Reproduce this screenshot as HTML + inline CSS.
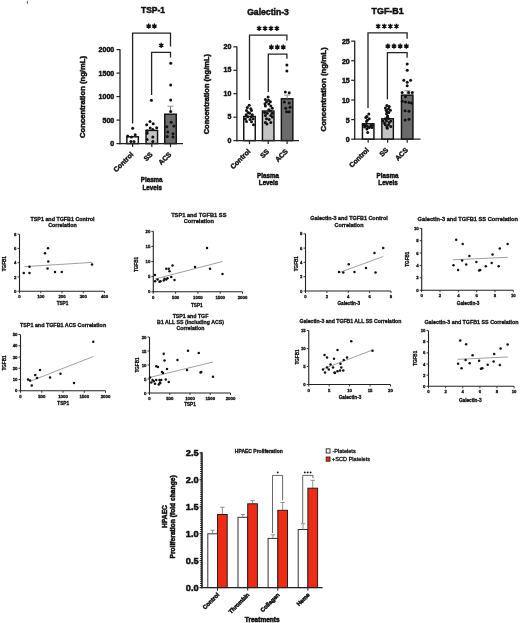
<!DOCTYPE html>
<html><head><meta charset="utf-8"><style>
html,body{margin:0;padding:0;background:#fff;}
svg{display:block;filter:blur(0.3px);font-family:"Liberation Sans",sans-serif;}
text.h{stroke:#111;stroke-width:0.5px;}
text.m{stroke:#111;stroke-width:0.4px;}
text.s{stroke:#111;stroke-width:0.3px;}
text.r{stroke:#111;stroke-width:0.3px;}
</style></head><body>
<svg width="520" height="623" viewBox="0 0 520 623">
<rect width="520" height="623" fill="#fff"/>
<text x="0" y="0" font-size="9.1" text-anchor="middle" font-weight="bold" fill="#111" transform="translate(153.00 13.20) scale(0.93 1)" class="h">TSP-1</text>
<line x1="120.00" y1="49.30" x2="120.00" y2="144.25" stroke="#222" stroke-width="1.3"/>
<line x1="116.50" y1="49.60" x2="120.00" y2="49.60" stroke="#222" stroke-width="1.2"/>
<text x="114.20" y="52.10" font-size="7" text-anchor="end" font-weight="bold" fill="#111" class="h">2000</text>
<line x1="116.50" y1="73.10" x2="120.00" y2="73.10" stroke="#222" stroke-width="1.2"/>
<text x="114.20" y="75.60" font-size="7" text-anchor="end" font-weight="bold" fill="#111" class="h">1500</text>
<line x1="116.50" y1="96.60" x2="120.00" y2="96.60" stroke="#222" stroke-width="1.2"/>
<text x="114.20" y="99.10" font-size="7" text-anchor="end" font-weight="bold" fill="#111" class="h">1000</text>
<line x1="116.50" y1="120.10" x2="120.00" y2="120.10" stroke="#222" stroke-width="1.2"/>
<text x="114.20" y="122.60" font-size="7" text-anchor="end" font-weight="bold" fill="#111" class="h">500</text>
<line x1="116.50" y1="143.60" x2="120.00" y2="143.60" stroke="#222" stroke-width="1.2"/>
<text x="114.20" y="146.10" font-size="7" text-anchor="end" font-weight="bold" fill="#111" class="h">0</text>
<rect x="126.85" y="136.80" width="11.50" height="6.80" fill="#fff" stroke="#111" stroke-width="1.45"/>
<circle cx="132.70" cy="128.30" r="1.5" fill="#111"/>
<circle cx="127.70" cy="136.00" r="1.5" fill="#111"/>
<circle cx="135.20" cy="134.80" r="1.5" fill="#111"/>
<circle cx="131.50" cy="137.00" r="1.5" fill="#111"/>
<circle cx="130.90" cy="141.50" r="1.5" fill="#111"/>
<circle cx="134.00" cy="141.50" r="1.5" fill="#111"/>
<rect x="146.05" y="130.40" width="11.50" height="13.20" fill="#c4c4c4" stroke="#111" stroke-width="1.45"/>
<circle cx="151.40" cy="100.20" r="1.5" fill="#111"/>
<circle cx="150.00" cy="121.60" r="1.5" fill="#111"/>
<circle cx="146.70" cy="124.80" r="1.5" fill="#111"/>
<circle cx="153.20" cy="123.70" r="1.5" fill="#111"/>
<circle cx="150.20" cy="128.00" r="1.5" fill="#111"/>
<circle cx="156.70" cy="127.70" r="1.5" fill="#111"/>
<circle cx="152.80" cy="129.40" r="1.5" fill="#111"/>
<circle cx="147.10" cy="130.70" r="1.5" fill="#111"/>
<circle cx="147.10" cy="133.30" r="1.5" fill="#111"/>
<circle cx="152.80" cy="137.10" r="1.5" fill="#111"/>
<circle cx="147.10" cy="139.40" r="1.5" fill="#111"/>
<circle cx="152.80" cy="141.40" r="1.5" fill="#111"/>
<rect x="164.75" y="114.20" width="11.50" height="29.40" fill="#6b6b6b" stroke="#111" stroke-width="1.45"/>
<line x1="170.50" y1="114.20" x2="170.50" y2="106.20" stroke="#777" stroke-width="1.0"/>
<line x1="167.50" y1="106.20" x2="173.50" y2="106.20" stroke="#999" stroke-width="1.1"/>
<circle cx="170.70" cy="63.20" r="1.5" fill="#111"/>
<circle cx="170.70" cy="84.90" r="1.5" fill="#111"/>
<circle cx="170.70" cy="99.90" r="1.5" fill="#111"/>
<circle cx="170.70" cy="111.40" r="1.5" fill="#111"/>
<circle cx="171.20" cy="122.30" r="1.5" fill="#111"/>
<circle cx="166.80" cy="126.70" r="1.5" fill="#111"/>
<circle cx="173.90" cy="125.90" r="1.5" fill="#111"/>
<circle cx="167.70" cy="132.00" r="1.5" fill="#111"/>
<circle cx="173.00" cy="133.80" r="1.5" fill="#111"/>
<circle cx="167.30" cy="136.50" r="1.5" fill="#111"/>
<circle cx="173.00" cy="137.00" r="1.5" fill="#111"/>
<line x1="119.35" y1="143.60" x2="183.00" y2="143.60" stroke="#222" stroke-width="1.3"/>
<line x1="132.60" y1="143.60" x2="132.60" y2="147.10" stroke="#222" stroke-width="1.2"/>
<line x1="151.80" y1="143.60" x2="151.80" y2="147.10" stroke="#222" stroke-width="1.2"/>
<line x1="170.50" y1="143.60" x2="170.50" y2="147.10" stroke="#222" stroke-width="1.2"/>
<text x="133.90" y="154.90" font-size="7" text-anchor="end" font-weight="bold" fill="#111" class="m" transform="rotate(-45 133.90 154.90)">Control</text>
<text x="153.10" y="154.90" font-size="7" text-anchor="end" font-weight="bold" fill="#111" class="m" transform="rotate(-45 153.10 154.90)">SS</text>
<text x="171.80" y="154.90" font-size="7" text-anchor="end" font-weight="bold" fill="#111" class="m" transform="rotate(-45 171.80 154.90)">ACS</text>
<text x="0" y="0" font-size="7" text-anchor="middle" font-weight="bold" fill="#111" transform="translate(151.70 182.00) scale(0.89 1)" class="h">Plasma</text>
<text x="0" y="0" font-size="7" text-anchor="middle" font-weight="bold" fill="#111" transform="translate(152.20 189.60) scale(0.89 1)" class="h">Levels</text>
<text x="85.00" y="97.00" font-size="7.65" text-anchor="middle" font-weight="bold" fill="#111" transform="rotate(-90 85.00 97.00)" class="h">Concentration (ng/mL)</text>
<polyline points="132.60,123.50 132.60,33.10 170.50,33.10 170.50,46.40" fill="none" stroke="#222" stroke-width="1.3" stroke-linejoin="miter"/>
<path d="M148.70 23.55L148.70 28.65M146.49 24.83L150.91 27.38M150.91 24.83L146.49 27.38" stroke="#111" stroke-width="1.35" stroke-linecap="butt" fill="none"/>
<circle cx="148.70" cy="26.10" r="1.25" fill="#111"/>
<path d="M154.40 23.55L154.40 28.65M152.19 24.83L156.61 27.38M156.61 24.83L152.19 27.38" stroke="#111" stroke-width="1.35" stroke-linecap="butt" fill="none"/>
<circle cx="154.40" cy="26.10" r="1.25" fill="#111"/>
<polyline points="151.60,95.00 151.60,52.40 170.50,52.40 170.50,57.40" fill="none" stroke="#222" stroke-width="1.3" stroke-linejoin="miter"/>
<path d="M161.20 42.85L161.20 47.95M158.99 44.12L163.41 46.67M163.41 44.12L158.99 46.67" stroke="#111" stroke-width="1.35" stroke-linecap="butt" fill="none"/>
<circle cx="161.20" cy="45.40" r="1.25" fill="#111"/>
<text x="0" y="0" font-size="9.1" text-anchor="middle" font-weight="bold" fill="#111" transform="translate(268.00 14.90) scale(0.95 1)" class="h">Galectin-3</text>
<line x1="236.90" y1="46.50" x2="236.90" y2="141.25" stroke="#222" stroke-width="1.3"/>
<line x1="233.40" y1="46.80" x2="236.90" y2="46.80" stroke="#222" stroke-width="1.2"/>
<text x="231.30" y="48.90" font-size="7" text-anchor="end" font-weight="bold" fill="#111" class="h">20</text>
<line x1="233.40" y1="70.30" x2="236.90" y2="70.30" stroke="#222" stroke-width="1.2"/>
<text x="231.30" y="72.40" font-size="7" text-anchor="end" font-weight="bold" fill="#111" class="h">15</text>
<line x1="233.40" y1="93.70" x2="236.90" y2="93.70" stroke="#222" stroke-width="1.2"/>
<text x="231.30" y="95.80" font-size="7" text-anchor="end" font-weight="bold" fill="#111" class="h">10</text>
<line x1="233.40" y1="117.20" x2="236.90" y2="117.20" stroke="#222" stroke-width="1.2"/>
<text x="231.30" y="119.30" font-size="7" text-anchor="end" font-weight="bold" fill="#111" class="h">5</text>
<line x1="233.40" y1="140.60" x2="236.90" y2="140.60" stroke="#222" stroke-width="1.2"/>
<text x="231.30" y="142.70" font-size="7" text-anchor="end" font-weight="bold" fill="#111" class="h">0</text>
<rect x="243.75" y="116.50" width="11.50" height="24.10" fill="#fff" stroke="#111" stroke-width="1.45"/>
<circle cx="249.20" cy="105.20" r="1.5" fill="#111"/>
<circle cx="247.30" cy="107.50" r="1.5" fill="#111"/>
<circle cx="250.80" cy="108.70" r="1.5" fill="#111"/>
<circle cx="246.50" cy="110.60" r="1.5" fill="#111"/>
<circle cx="251.50" cy="110.60" r="1.5" fill="#111"/>
<circle cx="248.10" cy="112.50" r="1.5" fill="#111"/>
<circle cx="249.60" cy="113.30" r="1.5" fill="#111"/>
<circle cx="246.20" cy="114.80" r="1.5" fill="#111"/>
<circle cx="252.30" cy="114.80" r="1.5" fill="#111"/>
<circle cx="247.70" cy="116.70" r="1.5" fill="#111"/>
<circle cx="251.20" cy="116.70" r="1.5" fill="#111"/>
<circle cx="245.40" cy="119.00" r="1.5" fill="#111"/>
<circle cx="250.00" cy="119.40" r="1.5" fill="#111"/>
<circle cx="253.10" cy="118.70" r="1.5" fill="#111"/>
<circle cx="246.50" cy="121.40" r="1.5" fill="#111"/>
<circle cx="251.50" cy="121.70" r="1.5" fill="#111"/>
<circle cx="253.50" cy="124.80" r="1.5" fill="#111"/>
<rect x="262.45" y="111.00" width="11.50" height="29.60" fill="#c4c4c4" stroke="#111" stroke-width="1.45"/>
<circle cx="268.10" cy="97.10" r="1.5" fill="#111"/>
<circle cx="265.40" cy="99.40" r="1.5" fill="#111"/>
<circle cx="268.50" cy="100.20" r="1.5" fill="#111"/>
<circle cx="266.50" cy="101.70" r="1.5" fill="#111"/>
<circle cx="270.40" cy="101.70" r="1.5" fill="#111"/>
<circle cx="265.00" cy="103.70" r="1.5" fill="#111"/>
<circle cx="268.80" cy="104.00" r="1.5" fill="#111"/>
<circle cx="265.40" cy="106.00" r="1.5" fill="#111"/>
<circle cx="270.80" cy="106.00" r="1.5" fill="#111"/>
<circle cx="272.30" cy="108.30" r="1.5" fill="#111"/>
<circle cx="268.80" cy="109.80" r="1.5" fill="#111"/>
<circle cx="270.40" cy="111.00" r="1.5" fill="#111"/>
<circle cx="264.60" cy="112.50" r="1.5" fill="#111"/>
<circle cx="267.30" cy="113.30" r="1.5" fill="#111"/>
<circle cx="272.30" cy="113.30" r="1.5" fill="#111"/>
<circle cx="265.40" cy="115.60" r="1.5" fill="#111"/>
<circle cx="270.80" cy="115.60" r="1.5" fill="#111"/>
<circle cx="266.50" cy="118.70" r="1.5" fill="#111"/>
<circle cx="269.20" cy="119.40" r="1.5" fill="#111"/>
<circle cx="272.30" cy="117.10" r="1.5" fill="#111"/>
<circle cx="265.40" cy="122.50" r="1.5" fill="#111"/>
<circle cx="270.80" cy="122.50" r="1.5" fill="#111"/>
<circle cx="266.90" cy="124.00" r="1.5" fill="#111"/>
<rect x="281.35" y="98.80" width="11.50" height="41.80" fill="#6b6b6b" stroke="#111" stroke-width="1.45"/>
<line x1="287.10" y1="98.80" x2="287.10" y2="95.10" stroke="#777" stroke-width="1.0"/>
<line x1="284.10" y1="95.10" x2="290.10" y2="95.10" stroke="#999" stroke-width="1.1"/>
<circle cx="286.90" cy="64.90" r="1.5" fill="#111"/>
<circle cx="286.90" cy="71.10" r="1.5" fill="#111"/>
<circle cx="285.30" cy="91.90" r="1.5" fill="#111"/>
<circle cx="289.20" cy="92.70" r="1.5" fill="#111"/>
<circle cx="284.30" cy="102.00" r="1.5" fill="#111"/>
<circle cx="289.20" cy="102.90" r="1.5" fill="#111"/>
<circle cx="285.70" cy="108.20" r="1.5" fill="#111"/>
<circle cx="290.10" cy="107.30" r="1.5" fill="#111"/>
<circle cx="286.60" cy="111.70" r="1.5" fill="#111"/>
<circle cx="289.20" cy="111.70" r="1.5" fill="#111"/>
<line x1="236.25" y1="140.60" x2="299.00" y2="140.60" stroke="#222" stroke-width="1.3"/>
<line x1="249.50" y1="140.60" x2="249.50" y2="144.10" stroke="#222" stroke-width="1.2"/>
<line x1="268.20" y1="140.60" x2="268.20" y2="144.10" stroke="#222" stroke-width="1.2"/>
<line x1="287.10" y1="140.60" x2="287.10" y2="144.10" stroke="#222" stroke-width="1.2"/>
<text x="250.80" y="151.90" font-size="7" text-anchor="end" font-weight="bold" fill="#111" class="m" transform="rotate(-45 250.80 151.90)">Control</text>
<text x="269.50" y="151.90" font-size="7" text-anchor="end" font-weight="bold" fill="#111" class="m" transform="rotate(-45 269.50 151.90)">SS</text>
<text x="288.40" y="151.90" font-size="7" text-anchor="end" font-weight="bold" fill="#111" class="m" transform="rotate(-45 288.40 151.90)">ACS</text>
<text x="0" y="0" font-size="7" text-anchor="middle" font-weight="bold" fill="#111" transform="translate(268.00 177.70) scale(0.89 1)" class="h">Plasma</text>
<text x="0" y="0" font-size="7" text-anchor="middle" font-weight="bold" fill="#111" transform="translate(268.50 185.30) scale(0.89 1)" class="h">Levels</text>
<text x="208.80" y="94.15" font-size="7.5" text-anchor="middle" font-weight="bold" fill="#111" transform="rotate(-90 208.80 94.15)" class="h">Concentration (ng/mL)</text>
<polyline points="249.50,100.00 249.50,35.10 286.90,35.10 286.90,40.60" fill="none" stroke="#222" stroke-width="1.3" stroke-linejoin="miter"/>
<path d="M259.11 25.85L259.11 30.95M256.90 27.12L261.31 29.67M261.31 27.12L256.90 29.67" stroke="#111" stroke-width="1.35" stroke-linecap="butt" fill="none"/>
<circle cx="259.11" cy="28.40" r="1.25" fill="#111"/>
<path d="M265.04 25.85L265.04 30.95M262.83 27.12L267.24 29.67M267.24 27.12L262.83 29.67" stroke="#111" stroke-width="1.35" stroke-linecap="butt" fill="none"/>
<circle cx="265.04" cy="28.40" r="1.25" fill="#111"/>
<path d="M270.96 25.85L270.96 30.95M268.76 27.12L273.17 29.67M273.17 27.12L268.76 29.67" stroke="#111" stroke-width="1.35" stroke-linecap="butt" fill="none"/>
<circle cx="270.96" cy="28.40" r="1.25" fill="#111"/>
<path d="M276.89 25.85L276.89 30.95M274.69 27.12L279.10 29.67M279.10 27.12L274.69 29.67" stroke="#111" stroke-width="1.35" stroke-linecap="butt" fill="none"/>
<circle cx="276.89" cy="28.40" r="1.25" fill="#111"/>
<polyline points="268.30,92.00 268.30,54.20 286.90,54.20 286.90,58.80" fill="none" stroke="#222" stroke-width="1.3" stroke-linejoin="miter"/>
<path d="M271.35 44.55L271.35 49.65M269.14 45.83L273.56 48.38M273.56 45.83L269.14 48.38" stroke="#111" stroke-width="1.35" stroke-linecap="butt" fill="none"/>
<circle cx="271.35" cy="47.10" r="1.25" fill="#111"/>
<path d="M277.30 44.55L277.30 49.65M275.09 45.83L279.51 48.38M279.51 45.83L275.09 48.38" stroke="#111" stroke-width="1.35" stroke-linecap="butt" fill="none"/>
<circle cx="277.30" cy="47.10" r="1.25" fill="#111"/>
<path d="M283.25 44.55L283.25 49.65M281.04 45.83L285.46 48.38M285.46 45.83L281.04 48.38" stroke="#111" stroke-width="1.35" stroke-linecap="butt" fill="none"/>
<circle cx="283.25" cy="47.10" r="1.25" fill="#111"/>
<text x="0" y="0" font-size="9.1" text-anchor="middle" font-weight="bold" fill="#111" transform="translate(387.60 13.80) scale(0.98 1)" class="h">TGF-B1</text>
<line x1="354.70" y1="40.80" x2="354.70" y2="139.85" stroke="#222" stroke-width="1.3"/>
<line x1="351.20" y1="41.10" x2="354.70" y2="41.10" stroke="#222" stroke-width="1.2"/>
<text x="349.70" y="44.00" font-size="7" text-anchor="end" font-weight="bold" fill="#111" class="h">25</text>
<line x1="351.20" y1="60.70" x2="354.70" y2="60.70" stroke="#222" stroke-width="1.2"/>
<text x="349.70" y="63.60" font-size="7" text-anchor="end" font-weight="bold" fill="#111" class="h">20</text>
<line x1="351.20" y1="80.30" x2="354.70" y2="80.30" stroke="#222" stroke-width="1.2"/>
<text x="349.70" y="83.20" font-size="7" text-anchor="end" font-weight="bold" fill="#111" class="h">15</text>
<line x1="351.20" y1="100.00" x2="354.70" y2="100.00" stroke="#222" stroke-width="1.2"/>
<text x="349.70" y="102.90" font-size="7" text-anchor="end" font-weight="bold" fill="#111" class="h">10</text>
<line x1="351.20" y1="119.60" x2="354.70" y2="119.60" stroke="#222" stroke-width="1.2"/>
<text x="349.70" y="122.50" font-size="7" text-anchor="end" font-weight="bold" fill="#111" class="h">5</text>
<line x1="351.20" y1="139.20" x2="354.70" y2="139.20" stroke="#222" stroke-width="1.2"/>
<text x="349.70" y="142.10" font-size="7" text-anchor="end" font-weight="bold" fill="#111" class="h">0</text>
<rect x="362.45" y="123.80" width="11.50" height="15.40" fill="#fff" stroke="#111" stroke-width="1.45"/>
<circle cx="368.80" cy="114.00" r="1.5" fill="#111"/>
<circle cx="366.90" cy="116.40" r="1.5" fill="#111"/>
<circle cx="365.80" cy="117.50" r="1.5" fill="#111"/>
<circle cx="369.20" cy="118.70" r="1.5" fill="#111"/>
<circle cx="367.30" cy="120.20" r="1.5" fill="#111"/>
<circle cx="366.50" cy="121.40" r="1.5" fill="#111"/>
<circle cx="363.80" cy="124.80" r="1.5" fill="#111"/>
<circle cx="366.20" cy="125.60" r="1.5" fill="#111"/>
<circle cx="367.70" cy="126.40" r="1.5" fill="#111"/>
<circle cx="370.80" cy="125.60" r="1.5" fill="#111"/>
<circle cx="372.30" cy="125.20" r="1.5" fill="#111"/>
<circle cx="364.60" cy="127.10" r="1.5" fill="#111"/>
<circle cx="369.20" cy="127.50" r="1.5" fill="#111"/>
<circle cx="371.90" cy="127.50" r="1.5" fill="#111"/>
<circle cx="366.90" cy="129.00" r="1.5" fill="#111"/>
<circle cx="367.70" cy="132.50" r="1.5" fill="#111"/>
<rect x="381.85" y="118.80" width="11.50" height="20.40" fill="#c4c4c4" stroke="#111" stroke-width="1.45"/>
<circle cx="386.90" cy="105.60" r="1.5" fill="#111"/>
<circle cx="389.20" cy="106.40" r="1.5" fill="#111"/>
<circle cx="385.40" cy="107.90" r="1.5" fill="#111"/>
<circle cx="388.50" cy="108.70" r="1.5" fill="#111"/>
<circle cx="386.20" cy="110.20" r="1.5" fill="#111"/>
<circle cx="390.40" cy="110.20" r="1.5" fill="#111"/>
<circle cx="386.90" cy="111.70" r="1.5" fill="#111"/>
<circle cx="388.80" cy="112.50" r="1.5" fill="#111"/>
<circle cx="386.50" cy="113.70" r="1.5" fill="#111"/>
<circle cx="387.70" cy="116.00" r="1.5" fill="#111"/>
<circle cx="387.30" cy="117.10" r="1.5" fill="#111"/>
<circle cx="385.40" cy="118.70" r="1.5" fill="#111"/>
<circle cx="388.50" cy="118.70" r="1.5" fill="#111"/>
<circle cx="383.10" cy="121.00" r="1.5" fill="#111"/>
<circle cx="386.50" cy="121.00" r="1.5" fill="#111"/>
<circle cx="390.80" cy="121.00" r="1.5" fill="#111"/>
<circle cx="384.60" cy="123.30" r="1.5" fill="#111"/>
<circle cx="389.20" cy="122.50" r="1.5" fill="#111"/>
<circle cx="385.40" cy="124.80" r="1.5" fill="#111"/>
<circle cx="388.50" cy="124.80" r="1.5" fill="#111"/>
<circle cx="386.90" cy="127.10" r="1.5" fill="#111"/>
<circle cx="390.80" cy="126.40" r="1.5" fill="#111"/>
<circle cx="387.30" cy="128.30" r="1.5" fill="#111"/>
<rect x="401.45" y="95.10" width="11.50" height="44.10" fill="#6b6b6b" stroke="#111" stroke-width="1.45"/>
<line x1="407.20" y1="95.10" x2="407.20" y2="90.70" stroke="#777" stroke-width="1.0"/>
<line x1="404.20" y1="90.70" x2="410.20" y2="90.70" stroke="#999" stroke-width="1.1"/>
<circle cx="407.20" cy="64.00" r="1.5" fill="#111"/>
<circle cx="407.20" cy="70.20" r="1.5" fill="#111"/>
<circle cx="403.80" cy="80.20" r="1.5" fill="#111"/>
<circle cx="410.60" cy="80.20" r="1.5" fill="#111"/>
<circle cx="407.20" cy="82.20" r="1.5" fill="#111"/>
<circle cx="407.20" cy="85.70" r="1.5" fill="#111"/>
<circle cx="402.10" cy="92.40" r="1.5" fill="#111"/>
<circle cx="408.70" cy="92.40" r="1.5" fill="#111"/>
<circle cx="412.30" cy="92.40" r="1.5" fill="#111"/>
<circle cx="405.50" cy="96.70" r="1.5" fill="#111"/>
<circle cx="402.30" cy="101.20" r="1.5" fill="#111"/>
<circle cx="405.50" cy="102.00" r="1.5" fill="#111"/>
<circle cx="409.00" cy="102.40" r="1.5" fill="#111"/>
<circle cx="411.60" cy="102.90" r="1.5" fill="#111"/>
<circle cx="405.10" cy="110.80" r="1.5" fill="#111"/>
<circle cx="409.00" cy="111.20" r="1.5" fill="#111"/>
<circle cx="405.10" cy="120.00" r="1.5" fill="#111"/>
<circle cx="409.00" cy="119.30" r="1.5" fill="#111"/>
<line x1="354.05" y1="139.20" x2="420.50" y2="139.20" stroke="#222" stroke-width="1.3"/>
<line x1="368.20" y1="139.20" x2="368.20" y2="142.70" stroke="#222" stroke-width="1.2"/>
<line x1="387.60" y1="139.20" x2="387.60" y2="142.70" stroke="#222" stroke-width="1.2"/>
<line x1="407.20" y1="139.20" x2="407.20" y2="142.70" stroke="#222" stroke-width="1.2"/>
<text x="369.50" y="150.50" font-size="7" text-anchor="end" font-weight="bold" fill="#111" class="m" transform="rotate(-45 369.50 150.50)">Control</text>
<text x="388.90" y="150.50" font-size="7" text-anchor="end" font-weight="bold" fill="#111" class="m" transform="rotate(-45 388.90 150.50)">SS</text>
<text x="408.50" y="150.50" font-size="7" text-anchor="end" font-weight="bold" fill="#111" class="m" transform="rotate(-45 408.50 150.50)">ACS</text>
<text x="0" y="0" font-size="7" text-anchor="middle" font-weight="bold" fill="#111" transform="translate(387.50 177.70) scale(0.89 1)" class="h">Plasma</text>
<text x="0" y="0" font-size="7" text-anchor="middle" font-weight="bold" fill="#111" transform="translate(388.00 185.30) scale(0.89 1)" class="h">Levels</text>
<text x="326.00" y="89.40" font-size="7.85" text-anchor="middle" font-weight="bold" fill="#111" transform="rotate(-90 326.00 89.40)" class="h">Concentration (ng/mL)</text>
<polyline points="368.00,108.00 368.00,32.90 407.10,32.90 407.10,38.70" fill="none" stroke="#222" stroke-width="1.3" stroke-linejoin="miter"/>
<path d="M378.15 23.65L378.15 28.75M375.94 24.93L380.36 27.47M380.36 24.93L375.94 27.47" stroke="#111" stroke-width="1.35" stroke-linecap="butt" fill="none"/>
<circle cx="378.15" cy="26.20" r="1.25" fill="#111"/>
<path d="M384.25 23.65L384.25 28.75M382.04 24.93L386.46 27.47M386.46 24.93L382.04 27.47" stroke="#111" stroke-width="1.35" stroke-linecap="butt" fill="none"/>
<circle cx="384.25" cy="26.20" r="1.25" fill="#111"/>
<path d="M390.35 23.65L390.35 28.75M388.14 24.93L392.56 27.47M392.56 24.93L388.14 27.47" stroke="#111" stroke-width="1.35" stroke-linecap="butt" fill="none"/>
<circle cx="390.35" cy="26.20" r="1.25" fill="#111"/>
<path d="M396.45 23.65L396.45 28.75M394.24 24.93L398.66 27.47M398.66 24.93L394.24 27.47" stroke="#111" stroke-width="1.35" stroke-linecap="butt" fill="none"/>
<circle cx="396.45" cy="26.20" r="1.25" fill="#111"/>
<polyline points="387.40,99.20 387.40,52.60 407.10,52.60 407.10,57.70" fill="none" stroke="#222" stroke-width="1.3" stroke-linejoin="miter"/>
<path d="M387.85 43.55L387.85 48.65M385.64 44.83L390.05 47.38M390.05 44.83L385.64 47.38" stroke="#111" stroke-width="1.35" stroke-linecap="butt" fill="none"/>
<circle cx="387.85" cy="46.10" r="1.25" fill="#111"/>
<path d="M394.02 43.55L394.02 48.65M391.81 44.83L396.22 47.38M396.22 44.83L391.81 47.38" stroke="#111" stroke-width="1.35" stroke-linecap="butt" fill="none"/>
<circle cx="394.02" cy="46.10" r="1.25" fill="#111"/>
<path d="M400.19 43.55L400.19 48.65M397.98 44.83L402.39 47.38M402.39 44.83L397.98 47.38" stroke="#111" stroke-width="1.35" stroke-linecap="butt" fill="none"/>
<circle cx="400.19" cy="46.10" r="1.25" fill="#111"/>
<path d="M406.36 43.55L406.36 48.65M404.15 44.83L408.56 47.38M408.56 44.83L404.15 47.38" stroke="#111" stroke-width="1.35" stroke-linecap="butt" fill="none"/>
<circle cx="406.36" cy="46.10" r="1.25" fill="#111"/>
<line x1="27.40" y1="0.80" x2="27.40" y2="3.80" stroke="#444" stroke-width="0.9"/>
<text x="62.50" y="220.50" font-size="5.36" text-anchor="middle" font-weight="bold" fill="#111" class="s">TSP1 and TGFB1 Control</text>
<text x="62.50" y="227.30" font-size="5.36" text-anchor="middle" font-weight="bold" fill="#111" class="s">Correlation</text>
<line x1="19.50" y1="234.20" x2="19.50" y2="291.70" stroke="#222" stroke-width="1.1"/>
<line x1="19.00" y1="291.20" x2="104.50" y2="291.20" stroke="#222" stroke-width="1.1"/>
<line x1="17.50" y1="291.20" x2="19.50" y2="291.20" stroke="#222" stroke-width="0.9"/>
<text x="16.50" y="292.75" font-size="4.3" text-anchor="end" font-weight="bold" fill="#111" class="s">0</text>
<line x1="17.50" y1="276.95" x2="19.50" y2="276.95" stroke="#222" stroke-width="0.9"/>
<text x="16.50" y="278.50" font-size="4.3" text-anchor="end" font-weight="bold" fill="#111" class="s">2</text>
<line x1="17.50" y1="262.70" x2="19.50" y2="262.70" stroke="#222" stroke-width="0.9"/>
<text x="16.50" y="264.25" font-size="4.3" text-anchor="end" font-weight="bold" fill="#111" class="s">4</text>
<line x1="17.50" y1="248.45" x2="19.50" y2="248.45" stroke="#222" stroke-width="0.9"/>
<text x="16.50" y="250.00" font-size="4.3" text-anchor="end" font-weight="bold" fill="#111" class="s">6</text>
<line x1="17.50" y1="234.20" x2="19.50" y2="234.20" stroke="#222" stroke-width="0.9"/>
<text x="16.50" y="235.75" font-size="4.3" text-anchor="end" font-weight="bold" fill="#111" class="s">8</text>
<line x1="19.50" y1="291.20" x2="19.50" y2="293.20" stroke="#222" stroke-width="0.9"/>
<text x="19.50" y="298.20" font-size="4.3" text-anchor="middle" font-weight="bold" fill="#111" class="s">0</text>
<line x1="40.75" y1="291.20" x2="40.75" y2="293.20" stroke="#222" stroke-width="0.9"/>
<text x="40.75" y="298.20" font-size="4.3" text-anchor="middle" font-weight="bold" fill="#111" class="s">100</text>
<line x1="62.00" y1="291.20" x2="62.00" y2="293.20" stroke="#222" stroke-width="0.9"/>
<text x="62.00" y="298.20" font-size="4.3" text-anchor="middle" font-weight="bold" fill="#111" class="s">200</text>
<line x1="83.25" y1="291.20" x2="83.25" y2="293.20" stroke="#222" stroke-width="0.9"/>
<text x="83.25" y="298.20" font-size="4.3" text-anchor="middle" font-weight="bold" fill="#111" class="s">300</text>
<line x1="104.50" y1="291.20" x2="104.50" y2="293.20" stroke="#222" stroke-width="0.9"/>
<text x="104.50" y="298.20" font-size="4.3" text-anchor="middle" font-weight="bold" fill="#111" class="s">400</text>
<text x="62.50" y="304.50" font-size="4.7" text-anchor="middle" font-weight="bold" fill="#111" class="s">TSP1</text>
<text x="6.50" y="263.70" font-size="4.6" text-anchor="middle" font-weight="bold" fill="#111" transform="rotate(-90 6.50 263.70)" class="s">TGFB1</text>
<line x1="24.30" y1="266.70" x2="92.00" y2="262.40" stroke="#777" stroke-width="0.7"/>
<circle cx="23.75" cy="273.00" r="1.25" fill="#111"/>
<circle cx="29.50" cy="273.00" r="1.25" fill="#111"/>
<circle cx="29.50" cy="266.75" r="1.25" fill="#111"/>
<circle cx="45.00" cy="253.25" r="1.25" fill="#111"/>
<circle cx="48.00" cy="248.25" r="1.25" fill="#111"/>
<circle cx="48.25" cy="261.50" r="1.25" fill="#111"/>
<circle cx="47.50" cy="268.50" r="1.25" fill="#111"/>
<circle cx="55.00" cy="272.00" r="1.25" fill="#111"/>
<circle cx="61.75" cy="272.00" r="1.25" fill="#111"/>
<circle cx="92.00" cy="264.50" r="1.25" fill="#111"/>
<text x="198.80" y="216.80" font-size="5.7" text-anchor="middle" font-weight="bold" fill="#111" class="s">TSP1 and TGFB1 SS</text>
<text x="198.80" y="223.30" font-size="5.7" text-anchor="middle" font-weight="bold" fill="#111" class="s">Correlation</text>
<line x1="153.30" y1="231.30" x2="153.30" y2="292.30" stroke="#222" stroke-width="1.1"/>
<line x1="152.80" y1="291.80" x2="242.50" y2="291.80" stroke="#222" stroke-width="1.1"/>
<line x1="151.30" y1="291.80" x2="153.30" y2="291.80" stroke="#222" stroke-width="0.9"/>
<text x="150.30" y="293.35" font-size="4.3" text-anchor="end" font-weight="bold" fill="#111" class="s">0</text>
<line x1="151.30" y1="276.68" x2="153.30" y2="276.68" stroke="#222" stroke-width="0.9"/>
<text x="150.30" y="278.23" font-size="4.3" text-anchor="end" font-weight="bold" fill="#111" class="s">5</text>
<line x1="151.30" y1="261.55" x2="153.30" y2="261.55" stroke="#222" stroke-width="0.9"/>
<text x="150.30" y="263.10" font-size="4.3" text-anchor="end" font-weight="bold" fill="#111" class="s">10</text>
<line x1="151.30" y1="246.43" x2="153.30" y2="246.43" stroke="#222" stroke-width="0.9"/>
<text x="150.30" y="247.98" font-size="4.3" text-anchor="end" font-weight="bold" fill="#111" class="s">15</text>
<line x1="151.30" y1="231.30" x2="153.30" y2="231.30" stroke="#222" stroke-width="0.9"/>
<text x="150.30" y="232.85" font-size="4.3" text-anchor="end" font-weight="bold" fill="#111" class="s">20</text>
<line x1="153.30" y1="291.80" x2="153.30" y2="293.80" stroke="#222" stroke-width="0.9"/>
<text x="153.30" y="298.80" font-size="4.3" text-anchor="middle" font-weight="bold" fill="#111" class="s">0</text>
<line x1="175.60" y1="291.80" x2="175.60" y2="293.80" stroke="#222" stroke-width="0.9"/>
<text x="175.60" y="298.80" font-size="4.3" text-anchor="middle" font-weight="bold" fill="#111" class="s">500</text>
<line x1="197.90" y1="291.80" x2="197.90" y2="293.80" stroke="#222" stroke-width="0.9"/>
<text x="197.90" y="298.80" font-size="4.3" text-anchor="middle" font-weight="bold" fill="#111" class="s">1000</text>
<line x1="220.20" y1="291.80" x2="220.20" y2="293.80" stroke="#222" stroke-width="0.9"/>
<text x="220.20" y="298.80" font-size="4.3" text-anchor="middle" font-weight="bold" fill="#111" class="s">1500</text>
<line x1="242.50" y1="291.80" x2="242.50" y2="293.80" stroke="#222" stroke-width="0.9"/>
<text x="242.50" y="298.80" font-size="4.3" text-anchor="middle" font-weight="bold" fill="#111" class="s">2000</text>
<text x="196.80" y="307.00" font-size="4.7" text-anchor="middle" font-weight="bold" fill="#111" class="s">TSP1</text>
<text x="138.30" y="264.50" font-size="4.6" text-anchor="middle" font-weight="bold" fill="#111" transform="rotate(-90 138.30 264.50)" class="s">TGFB1</text>
<line x1="155.00" y1="279.00" x2="222.50" y2="261.50" stroke="#777" stroke-width="0.7"/>
<circle cx="155.00" cy="275.00" r="1.25" fill="#111"/>
<circle cx="155.00" cy="281.25" r="1.25" fill="#111"/>
<circle cx="157.50" cy="279.50" r="1.25" fill="#111"/>
<circle cx="159.50" cy="281.75" r="1.25" fill="#111"/>
<circle cx="160.50" cy="281.25" r="1.25" fill="#111"/>
<circle cx="163.75" cy="280.50" r="1.25" fill="#111"/>
<circle cx="164.50" cy="278.75" r="1.25" fill="#111"/>
<circle cx="166.25" cy="279.50" r="1.25" fill="#111"/>
<circle cx="167.50" cy="278.25" r="1.25" fill="#111"/>
<circle cx="166.25" cy="268.75" r="1.25" fill="#111"/>
<circle cx="168.75" cy="268.75" r="1.25" fill="#111"/>
<circle cx="169.50" cy="271.25" r="1.25" fill="#111"/>
<circle cx="172.50" cy="265.50" r="1.25" fill="#111"/>
<circle cx="171.25" cy="277.00" r="1.25" fill="#111"/>
<circle cx="174.50" cy="280.00" r="1.25" fill="#111"/>
<circle cx="195.00" cy="267.00" r="1.25" fill="#111"/>
<circle cx="207.00" cy="248.00" r="1.25" fill="#111"/>
<circle cx="210.00" cy="268.75" r="1.25" fill="#111"/>
<circle cx="222.50" cy="274.00" r="1.25" fill="#111"/>
<text x="349.00" y="220.00" font-size="5.43" text-anchor="middle" font-weight="bold" fill="#111" class="s">Galectin-3 and TGFB1 Control</text>
<text x="349.00" y="226.80" font-size="5.43" text-anchor="middle" font-weight="bold" fill="#111" class="s">Correlation</text>
<line x1="305.50" y1="233.80" x2="305.50" y2="291.50" stroke="#222" stroke-width="1.1"/>
<line x1="305.00" y1="291.00" x2="391.00" y2="291.00" stroke="#222" stroke-width="1.1"/>
<line x1="303.50" y1="291.00" x2="305.50" y2="291.00" stroke="#222" stroke-width="0.9"/>
<text x="302.50" y="292.55" font-size="4.3" text-anchor="end" font-weight="bold" fill="#111" class="s">0</text>
<line x1="303.50" y1="276.70" x2="305.50" y2="276.70" stroke="#222" stroke-width="0.9"/>
<text x="302.50" y="278.25" font-size="4.3" text-anchor="end" font-weight="bold" fill="#111" class="s">2</text>
<line x1="303.50" y1="262.40" x2="305.50" y2="262.40" stroke="#222" stroke-width="0.9"/>
<text x="302.50" y="263.95" font-size="4.3" text-anchor="end" font-weight="bold" fill="#111" class="s">4</text>
<line x1="303.50" y1="248.10" x2="305.50" y2="248.10" stroke="#222" stroke-width="0.9"/>
<text x="302.50" y="249.65" font-size="4.3" text-anchor="end" font-weight="bold" fill="#111" class="s">6</text>
<line x1="303.50" y1="233.80" x2="305.50" y2="233.80" stroke="#222" stroke-width="0.9"/>
<text x="302.50" y="235.35" font-size="4.3" text-anchor="end" font-weight="bold" fill="#111" class="s">8</text>
<line x1="305.50" y1="291.00" x2="305.50" y2="293.00" stroke="#222" stroke-width="0.9"/>
<text x="305.50" y="298.00" font-size="4.3" text-anchor="middle" font-weight="bold" fill="#111" class="s">0</text>
<line x1="326.88" y1="291.00" x2="326.88" y2="293.00" stroke="#222" stroke-width="0.9"/>
<text x="326.88" y="298.00" font-size="4.3" text-anchor="middle" font-weight="bold" fill="#111" class="s">2</text>
<line x1="348.25" y1="291.00" x2="348.25" y2="293.00" stroke="#222" stroke-width="0.9"/>
<text x="348.25" y="298.00" font-size="4.3" text-anchor="middle" font-weight="bold" fill="#111" class="s">4</text>
<line x1="369.62" y1="291.00" x2="369.62" y2="293.00" stroke="#222" stroke-width="0.9"/>
<text x="369.62" y="298.00" font-size="4.3" text-anchor="middle" font-weight="bold" fill="#111" class="s">6</text>
<line x1="391.00" y1="291.00" x2="391.00" y2="293.00" stroke="#222" stroke-width="0.9"/>
<text x="391.00" y="298.00" font-size="4.3" text-anchor="middle" font-weight="bold" fill="#111" class="s">8</text>
<text x="348.80" y="305.00" font-size="4.7" text-anchor="middle" font-weight="bold" fill="#111" class="s">Galectin-3</text>
<text x="298.30" y="263.70" font-size="4.6" text-anchor="middle" font-weight="bold" fill="#111" transform="rotate(-90 298.30 263.70)" class="s">TGFB1</text>
<line x1="339.50" y1="272.50" x2="383.25" y2="256.50" stroke="#777" stroke-width="0.7"/>
<circle cx="339.00" cy="272.00" r="1.25" fill="#111"/>
<circle cx="343.25" cy="272.50" r="1.25" fill="#111"/>
<circle cx="348.75" cy="264.25" r="1.25" fill="#111"/>
<circle cx="354.50" cy="272.00" r="1.25" fill="#111"/>
<circle cx="366.00" cy="268.00" r="1.25" fill="#111"/>
<circle cx="374.50" cy="253.00" r="1.25" fill="#111"/>
<circle cx="375.50" cy="272.50" r="1.25" fill="#111"/>
<circle cx="383.25" cy="248.00" r="1.25" fill="#111"/>
<text x="467.80" y="221.20" font-size="5.7" text-anchor="middle" font-weight="bold" fill="#111" class="s">Galectin-3 and TGFB1 SS Correlation</text>
<line x1="421.70" y1="228.30" x2="421.70" y2="290.70" stroke="#222" stroke-width="1.1"/>
<line x1="421.20" y1="290.20" x2="513.30" y2="290.20" stroke="#222" stroke-width="1.1"/>
<line x1="419.70" y1="290.20" x2="421.70" y2="290.20" stroke="#222" stroke-width="0.9"/>
<text x="418.70" y="291.75" font-size="4.3" text-anchor="end" font-weight="bold" fill="#111" class="s">0</text>
<line x1="419.70" y1="277.82" x2="421.70" y2="277.82" stroke="#222" stroke-width="0.9"/>
<text x="418.70" y="279.37" font-size="4.3" text-anchor="end" font-weight="bold" fill="#111" class="s">2</text>
<line x1="419.70" y1="265.44" x2="421.70" y2="265.44" stroke="#222" stroke-width="0.9"/>
<text x="418.70" y="266.99" font-size="4.3" text-anchor="end" font-weight="bold" fill="#111" class="s">4</text>
<line x1="419.70" y1="253.06" x2="421.70" y2="253.06" stroke="#222" stroke-width="0.9"/>
<text x="418.70" y="254.61" font-size="4.3" text-anchor="end" font-weight="bold" fill="#111" class="s">6</text>
<line x1="419.70" y1="240.68" x2="421.70" y2="240.68" stroke="#222" stroke-width="0.9"/>
<text x="418.70" y="242.23" font-size="4.3" text-anchor="end" font-weight="bold" fill="#111" class="s">8</text>
<line x1="419.70" y1="228.30" x2="421.70" y2="228.30" stroke="#222" stroke-width="0.9"/>
<text x="418.70" y="229.85" font-size="4.3" text-anchor="end" font-weight="bold" fill="#111" class="s">10</text>
<line x1="421.70" y1="290.20" x2="421.70" y2="292.20" stroke="#222" stroke-width="0.9"/>
<text x="421.70" y="297.20" font-size="4.3" text-anchor="middle" font-weight="bold" fill="#111" class="s">0</text>
<line x1="440.02" y1="290.20" x2="440.02" y2="292.20" stroke="#222" stroke-width="0.9"/>
<text x="440.02" y="297.20" font-size="4.3" text-anchor="middle" font-weight="bold" fill="#111" class="s">2</text>
<line x1="458.34" y1="290.20" x2="458.34" y2="292.20" stroke="#222" stroke-width="0.9"/>
<text x="458.34" y="297.20" font-size="4.3" text-anchor="middle" font-weight="bold" fill="#111" class="s">4</text>
<line x1="476.66" y1="290.20" x2="476.66" y2="292.20" stroke="#222" stroke-width="0.9"/>
<text x="476.66" y="297.20" font-size="4.3" text-anchor="middle" font-weight="bold" fill="#111" class="s">6</text>
<line x1="494.98" y1="290.20" x2="494.98" y2="292.20" stroke="#222" stroke-width="0.9"/>
<text x="494.98" y="297.20" font-size="4.3" text-anchor="middle" font-weight="bold" fill="#111" class="s">8</text>
<line x1="513.30" y1="290.20" x2="513.30" y2="292.20" stroke="#222" stroke-width="0.9"/>
<text x="513.30" y="297.20" font-size="4.3" text-anchor="middle" font-weight="bold" fill="#111" class="s">10</text>
<text x="468.10" y="305.00" font-size="4.7" text-anchor="middle" font-weight="bold" fill="#111" class="s">Galectin-3</text>
<text x="409.00" y="259.20" font-size="4.6" text-anchor="middle" font-weight="bold" fill="#111" transform="rotate(-90 409.00 259.20)" class="s">TGFB1</text>
<line x1="452.70" y1="259.80" x2="507.90" y2="257.30" stroke="#777" stroke-width="0.7"/>
<circle cx="453.50" cy="265.20" r="1.25" fill="#111"/>
<circle cx="456.20" cy="239.80" r="1.25" fill="#111"/>
<circle cx="458.10" cy="270.00" r="1.25" fill="#111"/>
<circle cx="462.10" cy="260.60" r="1.25" fill="#111"/>
<circle cx="462.70" cy="243.90" r="1.25" fill="#111"/>
<circle cx="466.20" cy="264.60" r="1.25" fill="#111"/>
<circle cx="469.40" cy="256.00" r="1.25" fill="#111"/>
<circle cx="476.40" cy="261.90" r="1.25" fill="#111"/>
<circle cx="479.10" cy="270.50" r="1.25" fill="#111"/>
<circle cx="480.20" cy="270.00" r="1.25" fill="#111"/>
<circle cx="485.80" cy="266.20" r="1.25" fill="#111"/>
<circle cx="491.70" cy="263.00" r="1.25" fill="#111"/>
<circle cx="492.50" cy="254.40" r="1.25" fill="#111"/>
<circle cx="498.70" cy="266.20" r="1.25" fill="#111"/>
<circle cx="499.80" cy="248.50" r="1.25" fill="#111"/>
<circle cx="507.60" cy="243.90" r="1.25" fill="#111"/>
<text x="63.10" y="327.30" font-size="5.37" text-anchor="middle" font-weight="bold" fill="#111" class="s">TSP1 and TGFB1 ACS Correlation</text>
<line x1="20.50" y1="334.50" x2="20.50" y2="391.30" stroke="#222" stroke-width="1.1"/>
<line x1="20.00" y1="390.80" x2="105.50" y2="390.80" stroke="#222" stroke-width="1.1"/>
<line x1="18.50" y1="390.80" x2="20.50" y2="390.80" stroke="#222" stroke-width="0.9"/>
<text x="17.50" y="392.35" font-size="4.3" text-anchor="end" font-weight="bold" fill="#111" class="s">0</text>
<line x1="18.50" y1="379.54" x2="20.50" y2="379.54" stroke="#222" stroke-width="0.9"/>
<text x="17.50" y="381.09" font-size="4.3" text-anchor="end" font-weight="bold" fill="#111" class="s">10</text>
<line x1="18.50" y1="368.28" x2="20.50" y2="368.28" stroke="#222" stroke-width="0.9"/>
<text x="17.50" y="369.83" font-size="4.3" text-anchor="end" font-weight="bold" fill="#111" class="s">20</text>
<line x1="18.50" y1="357.02" x2="20.50" y2="357.02" stroke="#222" stroke-width="0.9"/>
<text x="17.50" y="358.57" font-size="4.3" text-anchor="end" font-weight="bold" fill="#111" class="s">30</text>
<line x1="18.50" y1="345.76" x2="20.50" y2="345.76" stroke="#222" stroke-width="0.9"/>
<text x="17.50" y="347.31" font-size="4.3" text-anchor="end" font-weight="bold" fill="#111" class="s">40</text>
<line x1="18.50" y1="334.50" x2="20.50" y2="334.50" stroke="#222" stroke-width="0.9"/>
<text x="17.50" y="336.05" font-size="4.3" text-anchor="end" font-weight="bold" fill="#111" class="s">50</text>
<line x1="20.50" y1="390.80" x2="20.50" y2="392.80" stroke="#222" stroke-width="0.9"/>
<text x="20.50" y="397.80" font-size="4.3" text-anchor="middle" font-weight="bold" fill="#111" class="s">0</text>
<line x1="41.75" y1="390.80" x2="41.75" y2="392.80" stroke="#222" stroke-width="0.9"/>
<text x="41.75" y="397.80" font-size="4.3" text-anchor="middle" font-weight="bold" fill="#111" class="s">500</text>
<line x1="63.00" y1="390.80" x2="63.00" y2="392.80" stroke="#222" stroke-width="0.9"/>
<text x="63.00" y="397.80" font-size="4.3" text-anchor="middle" font-weight="bold" fill="#111" class="s">1000</text>
<line x1="84.25" y1="390.80" x2="84.25" y2="392.80" stroke="#222" stroke-width="0.9"/>
<text x="84.25" y="397.80" font-size="4.3" text-anchor="middle" font-weight="bold" fill="#111" class="s">1500</text>
<line x1="105.50" y1="390.80" x2="105.50" y2="392.80" stroke="#222" stroke-width="0.9"/>
<text x="105.50" y="397.80" font-size="4.3" text-anchor="middle" font-weight="bold" fill="#111" class="s">2000</text>
<text x="63.20" y="405.20" font-size="4.7" text-anchor="middle" font-weight="bold" fill="#111" class="s">TSP1</text>
<text x="5.70" y="363.00" font-size="4.6" text-anchor="middle" font-weight="bold" fill="#111" transform="rotate(-90 5.70 363.00)" class="s">TGFB1</text>
<line x1="29.50" y1="381.50" x2="93.25" y2="356.50" stroke="#777" stroke-width="0.7"/>
<circle cx="28.00" cy="379.50" r="1.25" fill="#111"/>
<circle cx="30.00" cy="380.50" r="1.25" fill="#111"/>
<circle cx="31.75" cy="385.50" r="1.25" fill="#111"/>
<circle cx="35.25" cy="375.00" r="1.25" fill="#111"/>
<circle cx="37.00" cy="378.00" r="1.25" fill="#111"/>
<circle cx="40.00" cy="370.00" r="1.25" fill="#111"/>
<circle cx="50.00" cy="377.50" r="1.25" fill="#111"/>
<circle cx="60.50" cy="373.75" r="1.25" fill="#111"/>
<circle cx="74.00" cy="383.00" r="1.25" fill="#111"/>
<circle cx="93.25" cy="341.75" r="1.25" fill="#111"/>
<text x="190.50" y="317.90" font-size="5.22" text-anchor="middle" font-weight="bold" fill="#111" class="s">TSP1 and TGF</text>
<text x="190.50" y="324.10" font-size="5.22" text-anchor="middle" font-weight="bold" fill="#111" class="s">B1 ALL SS (Including ACS)</text>
<text x="190.50" y="330.30" font-size="5.22" text-anchor="middle" font-weight="bold" fill="#111" class="s">Correlation</text>
<line x1="149.50" y1="337.00" x2="149.50" y2="393.50" stroke="#222" stroke-width="1.1"/>
<line x1="149.00" y1="393.00" x2="230.50" y2="393.00" stroke="#222" stroke-width="1.1"/>
<line x1="147.50" y1="393.00" x2="149.50" y2="393.00" stroke="#222" stroke-width="0.9"/>
<text x="146.50" y="394.55" font-size="4.3" text-anchor="end" font-weight="bold" fill="#111" class="s">0</text>
<line x1="147.50" y1="379.00" x2="149.50" y2="379.00" stroke="#222" stroke-width="0.9"/>
<text x="146.50" y="380.55" font-size="4.3" text-anchor="end" font-weight="bold" fill="#111" class="s">5</text>
<line x1="147.50" y1="365.00" x2="149.50" y2="365.00" stroke="#222" stroke-width="0.9"/>
<text x="146.50" y="366.55" font-size="4.3" text-anchor="end" font-weight="bold" fill="#111" class="s">10</text>
<line x1="147.50" y1="351.00" x2="149.50" y2="351.00" stroke="#222" stroke-width="0.9"/>
<text x="146.50" y="352.55" font-size="4.3" text-anchor="end" font-weight="bold" fill="#111" class="s">15</text>
<line x1="147.50" y1="337.00" x2="149.50" y2="337.00" stroke="#222" stroke-width="0.9"/>
<text x="146.50" y="338.55" font-size="4.3" text-anchor="end" font-weight="bold" fill="#111" class="s">20</text>
<line x1="149.50" y1="393.00" x2="149.50" y2="395.00" stroke="#222" stroke-width="0.9"/>
<text x="149.50" y="400.00" font-size="4.3" text-anchor="middle" font-weight="bold" fill="#111" class="s">0</text>
<line x1="169.75" y1="393.00" x2="169.75" y2="395.00" stroke="#222" stroke-width="0.9"/>
<text x="169.75" y="400.00" font-size="4.3" text-anchor="middle" font-weight="bold" fill="#111" class="s">500</text>
<line x1="190.00" y1="393.00" x2="190.00" y2="395.00" stroke="#222" stroke-width="0.9"/>
<text x="190.00" y="400.00" font-size="4.3" text-anchor="middle" font-weight="bold" fill="#111" class="s">1000</text>
<line x1="210.25" y1="393.00" x2="210.25" y2="395.00" stroke="#222" stroke-width="0.9"/>
<text x="210.25" y="400.00" font-size="4.3" text-anchor="middle" font-weight="bold" fill="#111" class="s">1500</text>
<line x1="230.50" y1="393.00" x2="230.50" y2="395.00" stroke="#222" stroke-width="0.9"/>
<text x="230.50" y="400.00" font-size="4.3" text-anchor="middle" font-weight="bold" fill="#111" class="s">2000</text>
<text x="190.00" y="406.20" font-size="4.7" text-anchor="middle" font-weight="bold" fill="#111" class="s">TSP1</text>
<text x="139.00" y="365.00" font-size="4.6" text-anchor="middle" font-weight="bold" fill="#111" transform="rotate(-90 139.00 365.00)" class="s">TGFB1</text>
<line x1="149.50" y1="377.50" x2="213.00" y2="362.00" stroke="#777" stroke-width="0.7"/>
<circle cx="150.00" cy="377.50" r="1.25" fill="#111"/>
<circle cx="151.25" cy="382.50" r="1.25" fill="#111"/>
<circle cx="152.50" cy="380.00" r="1.25" fill="#111"/>
<circle cx="153.75" cy="381.25" r="1.25" fill="#111"/>
<circle cx="155.00" cy="383.75" r="1.25" fill="#111"/>
<circle cx="156.25" cy="380.00" r="1.25" fill="#111"/>
<circle cx="158.75" cy="384.50" r="1.25" fill="#111"/>
<circle cx="160.00" cy="383.25" r="1.25" fill="#111"/>
<circle cx="156.25" cy="366.25" r="1.25" fill="#111"/>
<circle cx="158.00" cy="367.00" r="1.25" fill="#111"/>
<circle cx="159.50" cy="380.00" r="1.25" fill="#111"/>
<circle cx="160.00" cy="382.50" r="1.25" fill="#111"/>
<circle cx="161.25" cy="380.00" r="1.25" fill="#111"/>
<circle cx="162.00" cy="372.00" r="1.25" fill="#111"/>
<circle cx="163.00" cy="373.00" r="1.25" fill="#111"/>
<circle cx="163.75" cy="353.75" r="1.25" fill="#111"/>
<circle cx="164.50" cy="360.50" r="1.25" fill="#111"/>
<circle cx="165.75" cy="379.50" r="1.25" fill="#111"/>
<circle cx="167.00" cy="369.00" r="1.25" fill="#111"/>
<circle cx="168.75" cy="382.00" r="1.25" fill="#111"/>
<circle cx="177.50" cy="360.00" r="1.25" fill="#111"/>
<circle cx="187.00" cy="370.00" r="1.25" fill="#111"/>
<circle cx="188.00" cy="350.75" r="1.25" fill="#111"/>
<circle cx="198.75" cy="353.00" r="1.25" fill="#111"/>
<circle cx="200.50" cy="372.50" r="1.25" fill="#111"/>
<circle cx="201.25" cy="372.00" r="1.25" fill="#111"/>
<circle cx="213.00" cy="376.75" r="1.25" fill="#111"/>
<text x="350.40" y="323.30" font-size="5.15" text-anchor="middle" font-weight="bold" fill="#111" class="s">Galectin-3 and TGFB1 ALL SS Correlation</text>
<line x1="308.75" y1="330.50" x2="308.75" y2="385.00" stroke="#222" stroke-width="1.1"/>
<line x1="308.25" y1="384.50" x2="390.50" y2="384.50" stroke="#222" stroke-width="1.1"/>
<line x1="306.75" y1="384.50" x2="308.75" y2="384.50" stroke="#222" stroke-width="0.9"/>
<text x="305.75" y="386.05" font-size="4.3" text-anchor="end" font-weight="bold" fill="#111" class="s">0</text>
<line x1="306.75" y1="366.50" x2="308.75" y2="366.50" stroke="#222" stroke-width="0.9"/>
<text x="305.75" y="368.05" font-size="4.3" text-anchor="end" font-weight="bold" fill="#111" class="s">5</text>
<line x1="306.75" y1="348.50" x2="308.75" y2="348.50" stroke="#222" stroke-width="0.9"/>
<text x="305.75" y="350.05" font-size="4.3" text-anchor="end" font-weight="bold" fill="#111" class="s">10</text>
<line x1="306.75" y1="330.50" x2="308.75" y2="330.50" stroke="#222" stroke-width="0.9"/>
<text x="305.75" y="332.05" font-size="4.3" text-anchor="end" font-weight="bold" fill="#111" class="s">15</text>
<line x1="308.75" y1="384.50" x2="308.75" y2="386.50" stroke="#222" stroke-width="0.9"/>
<text x="308.75" y="391.50" font-size="4.3" text-anchor="middle" font-weight="bold" fill="#111" class="s">0</text>
<line x1="329.19" y1="384.50" x2="329.19" y2="386.50" stroke="#222" stroke-width="0.9"/>
<text x="329.19" y="391.50" font-size="4.3" text-anchor="middle" font-weight="bold" fill="#111" class="s">5</text>
<line x1="349.62" y1="384.50" x2="349.62" y2="386.50" stroke="#222" stroke-width="0.9"/>
<text x="349.62" y="391.50" font-size="4.3" text-anchor="middle" font-weight="bold" fill="#111" class="s">10</text>
<line x1="370.06" y1="384.50" x2="370.06" y2="386.50" stroke="#222" stroke-width="0.9"/>
<text x="370.06" y="391.50" font-size="4.3" text-anchor="middle" font-weight="bold" fill="#111" class="s">15</text>
<line x1="390.50" y1="384.50" x2="390.50" y2="386.50" stroke="#222" stroke-width="0.9"/>
<text x="390.50" y="391.50" font-size="4.3" text-anchor="middle" font-weight="bold" fill="#111" class="s">20</text>
<text x="350.00" y="398.80" font-size="4.7" text-anchor="middle" font-weight="bold" fill="#111" class="s">Galectin-3</text>
<text x="299.00" y="357.00" font-size="4.6" text-anchor="middle" font-weight="bold" fill="#111" transform="rotate(-90 299.00 357.00)" class="s">TGFB1</text>
<line x1="322.80" y1="369.00" x2="372.50" y2="350.00" stroke="#777" stroke-width="0.7"/>
<circle cx="323.00" cy="369.50" r="1.25" fill="#111"/>
<circle cx="324.50" cy="355.00" r="1.25" fill="#111"/>
<circle cx="325.00" cy="372.50" r="1.25" fill="#111"/>
<circle cx="327.00" cy="357.50" r="1.25" fill="#111"/>
<circle cx="327.00" cy="367.50" r="1.25" fill="#111"/>
<circle cx="328.75" cy="369.50" r="1.25" fill="#111"/>
<circle cx="330.50" cy="364.50" r="1.25" fill="#111"/>
<circle cx="333.00" cy="367.50" r="1.25" fill="#111"/>
<circle cx="334.00" cy="358.75" r="1.25" fill="#111"/>
<circle cx="334.50" cy="372.50" r="1.25" fill="#111"/>
<circle cx="335.00" cy="373.00" r="1.25" fill="#111"/>
<circle cx="337.50" cy="350.00" r="1.25" fill="#111"/>
<circle cx="337.50" cy="371.25" r="1.25" fill="#111"/>
<circle cx="340.00" cy="370.50" r="1.25" fill="#111"/>
<circle cx="340.50" cy="363.75" r="1.25" fill="#111"/>
<circle cx="341.25" cy="367.50" r="1.25" fill="#111"/>
<circle cx="343.25" cy="370.50" r="1.25" fill="#111"/>
<circle cx="343.75" cy="360.00" r="1.25" fill="#111"/>
<circle cx="347.00" cy="357.50" r="1.25" fill="#111"/>
<circle cx="351.25" cy="341.25" r="1.25" fill="#111"/>
<circle cx="372.50" cy="350.75" r="1.25" fill="#111"/>
<text x="471.50" y="323.50" font-size="5.34" text-anchor="middle" font-weight="bold" fill="#111" class="s">Galectin-3 and TGFB1 SS Correlation</text>
<line x1="428.50" y1="330.60" x2="428.50" y2="386.80" stroke="#222" stroke-width="1.1"/>
<line x1="428.00" y1="386.30" x2="514.10" y2="386.30" stroke="#222" stroke-width="1.1"/>
<line x1="426.50" y1="386.30" x2="428.50" y2="386.30" stroke="#222" stroke-width="0.9"/>
<text x="425.50" y="387.85" font-size="4.3" text-anchor="end" font-weight="bold" fill="#111" class="s">0</text>
<line x1="426.50" y1="375.16" x2="428.50" y2="375.16" stroke="#222" stroke-width="0.9"/>
<text x="425.50" y="376.71" font-size="4.3" text-anchor="end" font-weight="bold" fill="#111" class="s">2</text>
<line x1="426.50" y1="364.02" x2="428.50" y2="364.02" stroke="#222" stroke-width="0.9"/>
<text x="425.50" y="365.57" font-size="4.3" text-anchor="end" font-weight="bold" fill="#111" class="s">4</text>
<line x1="426.50" y1="352.88" x2="428.50" y2="352.88" stroke="#222" stroke-width="0.9"/>
<text x="425.50" y="354.43" font-size="4.3" text-anchor="end" font-weight="bold" fill="#111" class="s">6</text>
<line x1="426.50" y1="341.74" x2="428.50" y2="341.74" stroke="#222" stroke-width="0.9"/>
<text x="425.50" y="343.29" font-size="4.3" text-anchor="end" font-weight="bold" fill="#111" class="s">8</text>
<line x1="426.50" y1="330.60" x2="428.50" y2="330.60" stroke="#222" stroke-width="0.9"/>
<text x="425.50" y="332.15" font-size="4.3" text-anchor="end" font-weight="bold" fill="#111" class="s">10</text>
<line x1="428.50" y1="386.30" x2="428.50" y2="388.30" stroke="#222" stroke-width="0.9"/>
<text x="428.50" y="393.30" font-size="4.3" text-anchor="middle" font-weight="bold" fill="#111" class="s">0</text>
<line x1="445.62" y1="386.30" x2="445.62" y2="388.30" stroke="#222" stroke-width="0.9"/>
<text x="445.62" y="393.30" font-size="4.3" text-anchor="middle" font-weight="bold" fill="#111" class="s">2</text>
<line x1="462.74" y1="386.30" x2="462.74" y2="388.30" stroke="#222" stroke-width="0.9"/>
<text x="462.74" y="393.30" font-size="4.3" text-anchor="middle" font-weight="bold" fill="#111" class="s">4</text>
<line x1="479.86" y1="386.30" x2="479.86" y2="388.30" stroke="#222" stroke-width="0.9"/>
<text x="479.86" y="393.30" font-size="4.3" text-anchor="middle" font-weight="bold" fill="#111" class="s">6</text>
<line x1="496.98" y1="386.30" x2="496.98" y2="388.30" stroke="#222" stroke-width="0.9"/>
<text x="496.98" y="393.30" font-size="4.3" text-anchor="middle" font-weight="bold" fill="#111" class="s">8</text>
<line x1="514.10" y1="386.30" x2="514.10" y2="388.30" stroke="#222" stroke-width="0.9"/>
<text x="514.10" y="393.30" font-size="4.3" text-anchor="middle" font-weight="bold" fill="#111" class="s">10</text>
<text x="470.30" y="401.60" font-size="4.7" text-anchor="middle" font-weight="bold" fill="#111" class="s">Galectin-3</text>
<text x="417.50" y="358.30" font-size="4.6" text-anchor="middle" font-weight="bold" fill="#111" transform="rotate(-90 417.50 358.30)" class="s">TGFB1</text>
<line x1="457.54" y1="359.39" x2="507.89" y2="356.97" stroke="#777" stroke-width="0.7"/>
<circle cx="458.08" cy="363.70" r="1.25" fill="#111"/>
<circle cx="460.24" cy="340.54" r="1.25" fill="#111"/>
<circle cx="461.58" cy="368.27" r="1.25" fill="#111"/>
<circle cx="465.62" cy="359.93" r="1.25" fill="#111"/>
<circle cx="466.16" cy="344.31" r="1.25" fill="#111"/>
<circle cx="469.66" cy="363.16" r="1.25" fill="#111"/>
<circle cx="472.62" cy="355.35" r="1.25" fill="#111"/>
<circle cx="479.08" cy="360.74" r="1.25" fill="#111"/>
<circle cx="480.97" cy="368.81" r="1.25" fill="#111"/>
<circle cx="482.32" cy="368.27" r="1.25" fill="#111"/>
<circle cx="487.70" cy="364.77" r="1.25" fill="#111"/>
<circle cx="493.62" cy="361.54" r="1.25" fill="#111"/>
<circle cx="494.16" cy="354.00" r="1.25" fill="#111"/>
<circle cx="499.82" cy="365.04" r="1.25" fill="#111"/>
<circle cx="500.62" cy="348.62" r="1.25" fill="#111"/>
<circle cx="507.63" cy="344.58" r="1.25" fill="#111"/>
<text x="258.80" y="452.60" font-size="5.0" text-anchor="middle" font-weight="bold" fill="#111" class="s">HPAEC Proliferation</text>
<line x1="202.00" y1="452.20" x2="202.00" y2="588.30" stroke="#222" stroke-width="1.6"/>
<line x1="200.00" y1="587.60" x2="202.00" y2="587.60" stroke="#111" stroke-width="0.85"/>
<line x1="200.00" y1="585.53" x2="202.00" y2="585.53" stroke="#111" stroke-width="0.85"/>
<line x1="200.00" y1="583.45" x2="202.00" y2="583.45" stroke="#111" stroke-width="0.85"/>
<line x1="200.00" y1="581.38" x2="202.00" y2="581.38" stroke="#111" stroke-width="0.85"/>
<line x1="200.00" y1="579.31" x2="202.00" y2="579.31" stroke="#111" stroke-width="0.85"/>
<line x1="200.00" y1="577.23" x2="202.00" y2="577.23" stroke="#111" stroke-width="0.85"/>
<line x1="200.00" y1="575.16" x2="202.00" y2="575.16" stroke="#111" stroke-width="0.85"/>
<line x1="200.00" y1="573.09" x2="202.00" y2="573.09" stroke="#111" stroke-width="0.85"/>
<line x1="200.00" y1="571.02" x2="202.00" y2="571.02" stroke="#111" stroke-width="0.85"/>
<line x1="200.00" y1="568.94" x2="202.00" y2="568.94" stroke="#111" stroke-width="0.85"/>
<line x1="200.00" y1="566.87" x2="202.00" y2="566.87" stroke="#111" stroke-width="0.85"/>
<line x1="200.00" y1="564.80" x2="202.00" y2="564.80" stroke="#111" stroke-width="0.85"/>
<line x1="200.00" y1="562.72" x2="202.00" y2="562.72" stroke="#111" stroke-width="0.85"/>
<line x1="200.00" y1="560.65" x2="202.00" y2="560.65" stroke="#111" stroke-width="0.85"/>
<line x1="200.00" y1="558.58" x2="202.00" y2="558.58" stroke="#111" stroke-width="0.85"/>
<line x1="200.00" y1="556.50" x2="202.00" y2="556.50" stroke="#111" stroke-width="0.85"/>
<line x1="200.00" y1="554.43" x2="202.00" y2="554.43" stroke="#111" stroke-width="0.85"/>
<line x1="200.00" y1="552.36" x2="202.00" y2="552.36" stroke="#111" stroke-width="0.85"/>
<line x1="200.00" y1="550.28" x2="202.00" y2="550.28" stroke="#111" stroke-width="0.85"/>
<line x1="200.00" y1="548.21" x2="202.00" y2="548.21" stroke="#111" stroke-width="0.85"/>
<line x1="200.00" y1="546.14" x2="202.00" y2="546.14" stroke="#111" stroke-width="0.85"/>
<line x1="200.00" y1="544.07" x2="202.00" y2="544.07" stroke="#111" stroke-width="0.85"/>
<line x1="200.00" y1="541.99" x2="202.00" y2="541.99" stroke="#111" stroke-width="0.85"/>
<line x1="200.00" y1="539.92" x2="202.00" y2="539.92" stroke="#111" stroke-width="0.85"/>
<line x1="200.00" y1="537.85" x2="202.00" y2="537.85" stroke="#111" stroke-width="0.85"/>
<line x1="200.00" y1="535.77" x2="202.00" y2="535.77" stroke="#111" stroke-width="0.85"/>
<line x1="200.00" y1="533.70" x2="202.00" y2="533.70" stroke="#111" stroke-width="0.85"/>
<line x1="200.00" y1="531.63" x2="202.00" y2="531.63" stroke="#111" stroke-width="0.85"/>
<line x1="200.00" y1="529.55" x2="202.00" y2="529.55" stroke="#111" stroke-width="0.85"/>
<line x1="200.00" y1="527.48" x2="202.00" y2="527.48" stroke="#111" stroke-width="0.85"/>
<line x1="200.00" y1="525.41" x2="202.00" y2="525.41" stroke="#111" stroke-width="0.85"/>
<line x1="200.00" y1="523.33" x2="202.00" y2="523.33" stroke="#111" stroke-width="0.85"/>
<line x1="200.00" y1="521.26" x2="202.00" y2="521.26" stroke="#111" stroke-width="0.85"/>
<line x1="200.00" y1="519.19" x2="202.00" y2="519.19" stroke="#111" stroke-width="0.85"/>
<line x1="200.00" y1="517.12" x2="202.00" y2="517.12" stroke="#111" stroke-width="0.85"/>
<line x1="200.00" y1="515.04" x2="202.00" y2="515.04" stroke="#111" stroke-width="0.85"/>
<line x1="200.00" y1="512.97" x2="202.00" y2="512.97" stroke="#111" stroke-width="0.85"/>
<line x1="200.00" y1="510.90" x2="202.00" y2="510.90" stroke="#111" stroke-width="0.85"/>
<line x1="200.00" y1="508.82" x2="202.00" y2="508.82" stroke="#111" stroke-width="0.85"/>
<line x1="200.00" y1="506.75" x2="202.00" y2="506.75" stroke="#111" stroke-width="0.85"/>
<line x1="200.00" y1="504.68" x2="202.00" y2="504.68" stroke="#111" stroke-width="0.85"/>
<line x1="200.00" y1="502.60" x2="202.00" y2="502.60" stroke="#111" stroke-width="0.85"/>
<line x1="200.00" y1="500.53" x2="202.00" y2="500.53" stroke="#111" stroke-width="0.85"/>
<line x1="200.00" y1="498.46" x2="202.00" y2="498.46" stroke="#111" stroke-width="0.85"/>
<line x1="200.00" y1="496.38" x2="202.00" y2="496.38" stroke="#111" stroke-width="0.85"/>
<line x1="200.00" y1="494.31" x2="202.00" y2="494.31" stroke="#111" stroke-width="0.85"/>
<line x1="200.00" y1="492.24" x2="202.00" y2="492.24" stroke="#111" stroke-width="0.85"/>
<line x1="200.00" y1="490.17" x2="202.00" y2="490.17" stroke="#111" stroke-width="0.85"/>
<line x1="200.00" y1="488.09" x2="202.00" y2="488.09" stroke="#111" stroke-width="0.85"/>
<line x1="200.00" y1="486.02" x2="202.00" y2="486.02" stroke="#111" stroke-width="0.85"/>
<line x1="200.00" y1="483.95" x2="202.00" y2="483.95" stroke="#111" stroke-width="0.85"/>
<line x1="200.00" y1="481.87" x2="202.00" y2="481.87" stroke="#111" stroke-width="0.85"/>
<line x1="200.00" y1="479.80" x2="202.00" y2="479.80" stroke="#111" stroke-width="0.85"/>
<line x1="200.00" y1="477.73" x2="202.00" y2="477.73" stroke="#111" stroke-width="0.85"/>
<line x1="200.00" y1="475.65" x2="202.00" y2="475.65" stroke="#111" stroke-width="0.85"/>
<line x1="200.00" y1="473.58" x2="202.00" y2="473.58" stroke="#111" stroke-width="0.85"/>
<line x1="200.00" y1="471.51" x2="202.00" y2="471.51" stroke="#111" stroke-width="0.85"/>
<line x1="200.00" y1="469.43" x2="202.00" y2="469.43" stroke="#111" stroke-width="0.85"/>
<line x1="200.00" y1="467.36" x2="202.00" y2="467.36" stroke="#111" stroke-width="0.85"/>
<line x1="200.00" y1="465.29" x2="202.00" y2="465.29" stroke="#111" stroke-width="0.85"/>
<line x1="200.00" y1="463.22" x2="202.00" y2="463.22" stroke="#111" stroke-width="0.85"/>
<line x1="200.00" y1="461.14" x2="202.00" y2="461.14" stroke="#111" stroke-width="0.85"/>
<line x1="200.00" y1="459.07" x2="202.00" y2="459.07" stroke="#111" stroke-width="0.85"/>
<line x1="200.00" y1="457.00" x2="202.00" y2="457.00" stroke="#111" stroke-width="0.85"/>
<line x1="200.00" y1="454.92" x2="202.00" y2="454.92" stroke="#111" stroke-width="0.85"/>
<line x1="200.00" y1="452.85" x2="202.00" y2="452.85" stroke="#111" stroke-width="0.85"/>
<line x1="199.50" y1="587.60" x2="202.00" y2="587.60" stroke="#222" stroke-width="1.0"/>
<text x="198.60" y="590.90" font-size="9.2" text-anchor="end" font-weight="bold" fill="#111" class="h">0.0</text>
<line x1="199.50" y1="560.65" x2="202.00" y2="560.65" stroke="#222" stroke-width="1.0"/>
<text x="198.60" y="563.95" font-size="9.2" text-anchor="end" font-weight="bold" fill="#111" class="h">0.5</text>
<line x1="199.50" y1="533.70" x2="202.00" y2="533.70" stroke="#222" stroke-width="1.0"/>
<text x="198.60" y="537.00" font-size="9.2" text-anchor="end" font-weight="bold" fill="#111" class="h">1.0</text>
<line x1="199.50" y1="506.75" x2="202.00" y2="506.75" stroke="#222" stroke-width="1.0"/>
<text x="198.60" y="510.05" font-size="9.2" text-anchor="end" font-weight="bold" fill="#111" class="h">1.5</text>
<line x1="199.50" y1="479.80" x2="202.00" y2="479.80" stroke="#222" stroke-width="1.0"/>
<text x="198.60" y="483.10" font-size="9.2" text-anchor="end" font-weight="bold" fill="#111" class="h">2.0</text>
<line x1="199.50" y1="452.85" x2="202.00" y2="452.85" stroke="#222" stroke-width="1.0"/>
<text x="198.60" y="456.15" font-size="9.2" text-anchor="end" font-weight="bold" fill="#111" class="h">2.5</text>
<line x1="212.65" y1="533.80" x2="212.65" y2="530.20" stroke="#777" stroke-width="0.8"/>
<line x1="210.55" y1="530.20" x2="214.75" y2="530.20" stroke="#777" stroke-width="0.8"/>
<rect x="207.80" y="533.80" width="9.70" height="53.80" fill="#fff" stroke="#333" stroke-width="1.0"/>
<line x1="222.35" y1="514.50" x2="222.35" y2="507.30" stroke="#777" stroke-width="0.8"/>
<line x1="220.15" y1="507.30" x2="224.55" y2="507.30" stroke="#777" stroke-width="0.8"/>
<rect x="217.50" y="514.50" width="9.70" height="73.10" fill="#ee2c16" stroke="#222" stroke-width="1.0"/>
<line x1="217.50" y1="587.60" x2="217.50" y2="590.60" stroke="#222" stroke-width="1.0"/>
<text x="219.70" y="595.20" font-size="5.8" text-anchor="end" font-weight="bold" fill="#111" class="h" transform="rotate(-45 219.70 595.20)">Control</text>
<line x1="242.85" y1="517.30" x2="242.85" y2="514.50" stroke="#777" stroke-width="0.8"/>
<line x1="240.75" y1="514.50" x2="244.95" y2="514.50" stroke="#777" stroke-width="0.8"/>
<rect x="238.00" y="517.30" width="9.70" height="70.30" fill="#fff" stroke="#333" stroke-width="1.0"/>
<line x1="252.55" y1="503.80" x2="252.55" y2="500.60" stroke="#777" stroke-width="0.8"/>
<line x1="250.35" y1="500.60" x2="254.75" y2="500.60" stroke="#777" stroke-width="0.8"/>
<rect x="247.70" y="503.80" width="9.70" height="83.80" fill="#ee2c16" stroke="#222" stroke-width="1.0"/>
<line x1="247.70" y1="587.60" x2="247.70" y2="590.60" stroke="#222" stroke-width="1.0"/>
<text x="249.90" y="595.20" font-size="5.8" text-anchor="end" font-weight="bold" fill="#111" class="h" transform="rotate(-45 249.90 595.20)">Thrombin</text>
<line x1="272.95" y1="538.40" x2="272.95" y2="534.80" stroke="#777" stroke-width="0.8"/>
<line x1="270.85" y1="534.80" x2="275.05" y2="534.80" stroke="#777" stroke-width="0.8"/>
<rect x="268.10" y="538.40" width="9.70" height="49.20" fill="#fff" stroke="#333" stroke-width="1.0"/>
<line x1="282.65" y1="510.30" x2="282.65" y2="502.50" stroke="#777" stroke-width="0.8"/>
<line x1="280.45" y1="502.50" x2="284.85" y2="502.50" stroke="#777" stroke-width="0.8"/>
<rect x="277.80" y="510.30" width="9.70" height="77.30" fill="#ee2c16" stroke="#222" stroke-width="1.0"/>
<line x1="277.80" y1="587.60" x2="277.80" y2="590.60" stroke="#222" stroke-width="1.0"/>
<text x="280.00" y="595.20" font-size="5.8" text-anchor="end" font-weight="bold" fill="#111" class="h" transform="rotate(-45 280.00 595.20)">Collagen</text>
<line x1="303.05" y1="529.50" x2="303.05" y2="523.70" stroke="#777" stroke-width="0.8"/>
<line x1="300.95" y1="523.70" x2="305.15" y2="523.70" stroke="#777" stroke-width="0.8"/>
<rect x="298.20" y="529.50" width="9.70" height="58.10" fill="#fff" stroke="#333" stroke-width="1.0"/>
<line x1="312.75" y1="488.20" x2="312.75" y2="480.30" stroke="#777" stroke-width="0.8"/>
<line x1="310.55" y1="480.30" x2="314.95" y2="480.30" stroke="#777" stroke-width="0.8"/>
<rect x="307.90" y="488.20" width="9.70" height="99.40" fill="#ee2c16" stroke="#222" stroke-width="1.0"/>
<line x1="307.90" y1="587.60" x2="307.90" y2="590.60" stroke="#222" stroke-width="1.0"/>
<text x="310.10" y="595.20" font-size="5.8" text-anchor="end" font-weight="bold" fill="#111" class="h" transform="rotate(-45 310.10 595.20)">Heme</text>
<line x1="201.30" y1="587.60" x2="322.60" y2="587.60" stroke="#222" stroke-width="1.4"/>
<polyline points="272.50,533.00 272.50,475.40 282.60,475.40 282.60,500.30" fill="none" stroke="#555" stroke-width="0.9" stroke-linejoin="miter"/>
<circle cx="277.70" cy="472.40" r="0.95" fill="#111"/>
<polyline points="302.70,523.00 302.70,475.40 313.00,475.40 313.00,478.20" fill="none" stroke="#555" stroke-width="0.9" stroke-linejoin="miter"/>
<circle cx="304.80" cy="472.40" r="0.95" fill="#111"/>
<circle cx="307.70" cy="472.40" r="0.95" fill="#111"/>
<circle cx="310.60" cy="472.40" r="0.95" fill="#111"/>
<rect x="326.20" y="448.80" width="3.80" height="4.20" fill="#fff" stroke="#222" stroke-width="0.9"/>
<text x="332.40" y="453.00" font-size="5.6" text-anchor="start" font-weight="normal" fill="#111" class="r">-Platelets</text>
<rect x="326.20" y="457.00" width="3.80" height="4.20" fill="#ee2c16" stroke="#222" stroke-width="0.9"/>
<text x="332.00" y="461.20" font-size="5.6" text-anchor="start" font-weight="normal" fill="#111" class="r">+SCD Platelets</text>
<text x="167.30" y="516.50" font-size="6.7" text-anchor="middle" font-weight="bold" fill="#111" transform="rotate(-90 167.30 516.50)" class="h">HPAEC</text>
<text x="174.80" y="516.90" font-size="6.7" text-anchor="middle" font-weight="bold" fill="#111" transform="rotate(-90 174.80 516.90)" class="h">Proliferation (fold change)</text>
<text x="262.20" y="621.80" font-size="6.5" text-anchor="middle" font-weight="bold" fill="#111" class="h">Treatments</text>
</svg></body></html>
